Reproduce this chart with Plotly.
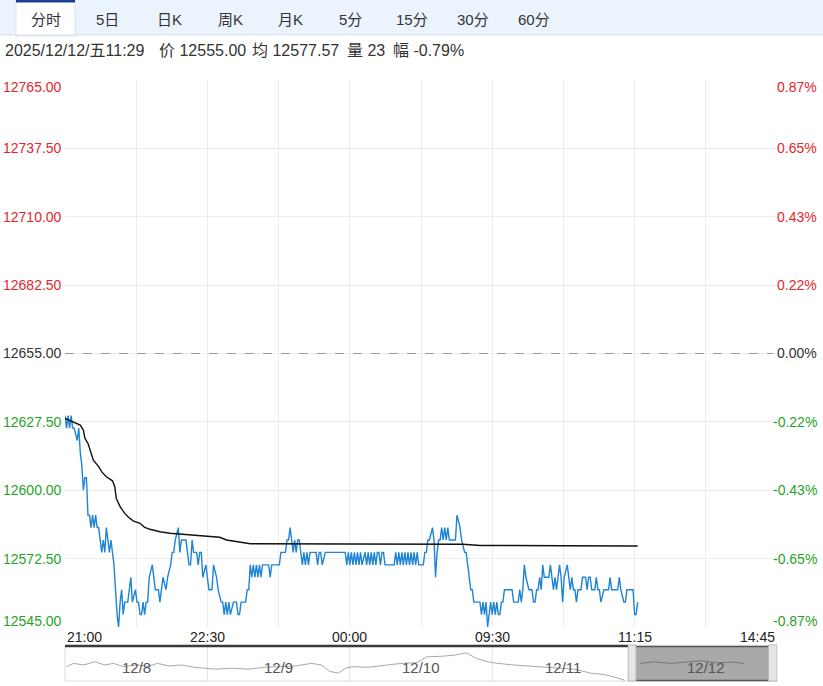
import plotly.graph_objects as go

# ---------------- data ----------------
prev_close = 12655.0
session_minutes = 465          # 21:00-01:00, 09:00-10:15, 10:30-11:30, 13:30-15:00
y_ticks = [12765.0, 12737.5, 12710.0, 12682.5, 12655.0, 12627.5, 12600.0, 12572.5, 12545.0]
time_labels = ["21:00", "22:30", "00:00", "09:30", "11:15", "14:45"]
tabs = ["分时", "5日", "日K", "周K", "月K", "5分", "15分", "30分", "60分"]
header_date = "2025/12/12/五11:29"
volume_last = 23
avg_last = 12577.57

# price line (minute offset from 21:00, price)
price_min = [0, 1, 2, 3, 4, 5, 6, 8, 9, 10, 11, 12, 13, 14, 15, 16, 17, 18, 19, 20,
             21, 22, 23, 24, 25, 26, 27, 29, 30, 31, 32, 33, 34, 35, 36, 37, 38, 39, 41, 43,
             44, 46, 47, 48, 49, 50, 51, 52, 53, 54, 55, 57, 58, 59, 61, 62, 63, 64, 66, 67,
             69, 70, 71, 72, 74, 75, 76, 79, 81, 82, 83, 84, 86, 87, 88, 89, 90, 92, 94, 96,
             97, 99, 100, 102, 103, 104, 105, 106, 107, 108, 110, 111, 112, 113, 114, 115, 118, 119, 120, 121,
             122, 123, 124, 125, 126, 127, 128, 129, 133, 134, 135, 140, 141, 144, 145, 146, 147, 148, 149, 150,
             151, 152, 153, 155, 156, 157, 158, 159, 160, 164, 165, 166, 167, 168, 170, 183, 184, 185, 186, 187,
             188, 189, 190, 191, 192, 193, 194, 196, 197, 198, 199, 200, 201, 202, 203, 204, 205, 206, 207, 208,
             209, 215, 216, 217, 218, 219, 220, 221, 222, 223, 224, 225, 226, 227, 228, 229, 230, 231, 234, 235,
             236, 237, 238, 240, 241, 242, 243, 244, 245, 246, 247, 248, 249, 250, 251, 255, 256, 258, 259, 261,
             262, 263, 265, 266, 267, 270, 271, 272, 273, 274, 275, 276, 278, 279, 280, 281, 282, 283, 284, 285,
             286, 287, 292, 293, 296, 297, 298, 299, 300, 301, 303, 305, 306, 307, 308, 309, 310, 311, 312, 313,
             314, 315, 316, 317, 318, 319, 320, 321, 323, 324, 325, 326, 328, 329, 330, 331, 332, 333, 334, 335,
             337, 338, 340, 341, 342, 343, 344, 346, 347, 348, 349, 350, 352, 355, 356, 357, 361, 362, 363, 365,
             366, 367, 371, 372, 373, 374]
price_val = [12630, 12625, 12630, 12625, 12630, 12625, 12625, 12620, 12625, 12615, 12610, 12600, 12605, 12605, 12590, 12590, 12585, 12590, 12585, 12590,
             12585, 12585, 12580, 12575, 12580, 12575, 12585, 12575, 12580, 12575, 12570, 12560, 12550, 12545, 12555, 12560, 12550, 12555, 12555, 12565,
             12555, 12560, 12555, 12555, 12550, 12550, 12555, 12550, 12555, 12555, 12565, 12570, 12565, 12560, 12560, 12555, 12560, 12565, 12560, 12565,
             12570, 12575, 12575, 12580, 12585, 12575, 12580, 12580, 12570, 12570, 12580, 12575, 12575, 12570, 12575, 12575, 12565, 12570, 12560, 12560,
             12570, 12565, 12560, 12555, 12555, 12550, 12555, 12550, 12555, 12550, 12555, 12555, 12555, 12550, 12550, 12555, 12555, 12560, 12560, 12570,
             12565, 12570, 12565, 12570, 12565, 12570, 12565, 12570, 12570, 12565, 12570, 12570, 12575, 12575, 12580, 12580, 12585, 12580, 12575, 12580,
             12575, 12580, 12580, 12570, 12575, 12570, 12575, 12570, 12575, 12575, 12570, 12575, 12575, 12570, 12575, 12575, 12570, 12575, 12570, 12575,
             12570, 12575, 12570, 12575, 12570, 12575, 12570, 12575, 12570, 12575, 12570, 12575, 12570, 12575, 12570, 12575, 12575, 12570, 12575, 12575,
             12570, 12570, 12575, 12570, 12575, 12570, 12575, 12570, 12575, 12570, 12575, 12570, 12575, 12570, 12575, 12570, 12575, 12570, 12570, 12575,
             12575, 12580, 12580, 12585, 12580, 12565, 12575, 12580, 12580, 12585, 12580, 12585, 12580, 12585, 12580, 12580, 12590, 12585, 12580, 12575,
             12575, 12570, 12560, 12560, 12555, 12555, 12555, 12550, 12555, 12550, 12555, 12545, 12555, 12550, 12555, 12550, 12555, 12550, 12550, 12555,
             12555, 12560, 12560, 12555, 12555, 12560, 12555, 12560, 12570, 12565, 12560, 12560, 12555, 12555, 12560, 12560, 12565, 12560, 12570, 12565,
             12565, 12565, 12565, 12570, 12565, 12560, 12565, 12560, 12570, 12565, 12555, 12565, 12570, 12565, 12560, 12565, 12560, 12560, 12555, 12560,
             12560, 12565, 12565, 12560, 12565, 12565, 12560, 12560, 12565, 12560, 12560, 12555, 12560, 12560, 12565, 12560, 12560, 12565, 12560, 12555,
             12555, 12560, 12560, 12550, 12550, 12555]

# average price line
avg_min = [0, 5, 10, 12, 13, 15, 17, 18.5, 22, 24, 27, 31, 32.5, 33.5, 36, 39, 41.5, 44.5, 49, 52,
           55.5, 62, 68.5, 75, 84, 95, 101, 105.5, 118.5, 121, 186, 234, 260, 269, 271, 325, 374]
avg_val = [12628.9, 12627.6, 12626.2, 12624.2, 12620.9, 12618.9, 12615.5, 12612.1, 12609.5, 12607.4,
           12605.4, 12603.8, 12601.4, 12596.7, 12593.4, 12590.7, 12589.1, 12587.7, 12586.7, 12585.1,
           12584.3, 12583.3, 12582.7, 12582.4, 12582.1, 12581.6, 12581.1, 12580.0, 12578.9, 12578.5,
           12578.4, 12578.4, 12578.3, 12577.9, 12577.8, 12577.7, 12577.57]

# navigator (5 days; position in days, price)
nav_days = ["12/8", "12/9", "12/10", "12/11", "12/12"]
nav_pos = [0.01, 0.06, 0.13, 0.21, 0.28, 0.34, 0.41, 0.51, 0.58, 0.65, 0.73, 0.82, 0.91, 0.99,
           1.06, 1.17, 1.29, 1.40, 1.51, 1.62, 1.73, 1.80, 1.86, 1.92, 1.97,
           2.02, 2.13, 2.25, 2.36, 2.47, 2.54, 2.65, 2.73, 2.82, 2.89, 2.97,
           3.04, 3.15, 3.24, 3.36, 3.47, 3.58, 3.69, 3.79, 3.88, 3.93]
nav_val = [12594, 12621, 12608, 12634, 12608, 12621, 12594, 12608, 12594, 12621, 12600, 12608, 12589, 12581,
           12573, 12581, 12573, 12589, 12594, 12600, 12621, 12608, 12555, 12541, 12581,
           12594, 12589, 12608, 12621, 12626, 12675, 12680, 12688, 12707, 12661, 12634,
           12621, 12608, 12600, 12594, 12581, 12573, 12541, 12528, 12501, 12482]
nav_sel_pos = [4.04, 4.14, 4.25, 4.36, 4.47, 4.58, 4.69, 4.77]
nav_sel_val = [12621, 12634, 12621, 12634, 12642, 12626, 12632, 12621]

# ---------------- layout helpers ----------------
W, H = 823, 686
PX0, PX1 = 65, 777
PY0, PY1 = 80, 627
NY0, NY1 = 646, 681
RED, GREEN, NEUTRAL = "#e4262b", "#1fa51f", "#333333"
FONT = "Liberation Sans, Arial, Noto Sans CJK SC"


def px(x):
    return x / W


def py(y):
    return 1 - y / H


fig = go.Figure()

fig.add_trace(go.Scatter(x=price_min, y=price_val, mode="lines",
                         line=dict(color="#1f84d4", width=1.4), hoverinfo="skip",
                         xaxis="x", yaxis="y"))
fig.add_trace(go.Scatter(x=avg_min, y=avg_val, mode="lines",
                         line=dict(color="#111111", width=1.4), hoverinfo="skip",
                         xaxis="x", yaxis="y"))
fig.add_trace(go.Scatter(x=nav_pos, y=nav_val, mode="lines",
                         line=dict(color="#a8a8a8", width=1), hoverinfo="skip",
                         xaxis="x2", yaxis="y2"))
fig.add_trace(go.Scatter(x=nav_sel_pos, y=nav_sel_val, mode="lines",
                         line=dict(color="#767676", width=1), hoverinfo="skip",
                         xaxis="x2", yaxis="y2"))

shapes = []
annotations = []

# tab bar
shapes.append(dict(type="rect", xref="paper", yref="paper", x0=0, x1=1, y0=py(35), y1=1,
                   fillcolor="#ebf3fd", line=dict(width=0), layer="below"))
shapes.append(dict(type="line", xref="paper", yref="paper", x0=0, x1=1, y0=py(35), y1=py(35),
                   line=dict(color="#d3e1f3", width=1)))
shapes.append(dict(type="rect", xref="paper", yref="paper", x0=px(16), x1=px(75), y0=py(36), y1=1,
                   fillcolor="#ffffff", line=dict(color="#d3e1f3", width=1), layer="below"))
shapes.append(dict(type="rect", xref="paper", yref="paper", x0=px(16), x1=px(75), y0=py(2.5), y1=1,
                   fillcolor="#1c3f94", line=dict(width=0)))
tab_x = [46, 107, 169, 230, 290, 350, 412, 473, 534]
for t, xc in zip(tabs, tab_x):
    annotations.append(dict(xref="paper", yref="paper", x=px(xc), y=py(19), text=t,
                            showarrow=False, xanchor="center", yanchor="middle",
                            font=dict(family=FONT, size=15, color="#333333")))

# header info
last_price = price_val[-1]
chg = (last_price - prev_close) / prev_close * 100
header_parts = [(3, header_date), (157, f"价 {last_price:.2f}"), (250, f"均 {avg_last:.2f}"),
                (345, f"量 {volume_last}"), (391, f"幅 {chg:.2f}%")]
for xl, t in header_parts:
    annotations.append(dict(xref="paper", yref="paper", x=px(xl), y=py(51), text=t,
                            showarrow=False, xanchor="left", yanchor="middle",
                            font=dict(family=FONT, size=16, color="#333333")))

# y tick labels (left price, right percent)
for i, v in enumerate(y_ticks):
    color = RED if v > prev_close else (GREEN if v < prev_close else NEUTRAL)
    if i == 0:
        ya, ys = "top", 3
    elif i == len(y_ticks) - 1:
        ya, ys = "bottom", -4
    else:
        ya, ys = "middle", 0
    pct = (v - prev_close) / prev_close * 100
    pct_txt = "0.00%" if abs(pct) < 0.005 else f"{pct:.2f}%"
    annotations.append(dict(xref="paper", yref="y", x=px(1), y=v, text=f"{v:.2f}",
                            showarrow=False, xanchor="left", yanchor=ya, yshift=ys,
                            font=dict(family=FONT, size=14, color=color)))
    annotations.append(dict(xref="paper", yref="y", x=px(819), y=v, text=pct_txt,
                            showarrow=False, xanchor="right", yanchor=ya, yshift=ys,
                            font=dict(family=FONT, size=14, color=color)))

# prev close dashed line
shapes.append(dict(type="line", xref="paper", yref="y", x0=px(PX0), x1=px(PX1 - 4),
                   y0=prev_close, y1=prev_close, line=dict(color="#9a9a9a", width=1, dash="dash")))

# x time labels
n_lab = len(time_labels)
for i, t in enumerate(time_labels):
    xv = session_minutes * i / (n_lab - 1)
    xa = "left" if i == 0 else ("right" if i == n_lab - 1 else "center")
    annotations.append(dict(xref="x", yref="paper", x=xv, y=py(637), text=t,
                            showarrow=False, xanchor=xa, yanchor="middle",
                            font=dict(family=FONT, size=14, color="#222222")))

# navigator decorations
shapes.append(dict(type="rect", xref="paper", yref="paper", x0=px(PX0), x1=px(PX1), y0=py(NY1), y1=py(NY0),
                   line=dict(color="#dcdcdc", width=1), fillcolor="rgba(0,0,0,0)", layer="below"))
for d in range(1, len(nav_days)):
    shapes.append(dict(type="line", xref="x2", yref="paper", x0=d, x1=d, y0=py(NY1), y1=py(NY0),
                       line=dict(color="#e2e2e2", width=1), layer="below"))
shapes.append(dict(type="rect", xref="x2", yref="paper", x0=4.01, x1=4.94, y0=py(NY1), y1=py(NY0),
                   fillcolor="#a9a9a9", line=dict(width=0), layer="below"))
shapes.append(dict(type="line", xref="paper", yref="paper", x0=px(PX0), x1=px(628), y0=py(NY0), y1=py(NY0),
                   line=dict(color="#3a3a3a", width=2.5)))
shapes.append(dict(type="line", xref="x2", yref="paper", x0=4.01, x1=4.94, y0=py(NY0 + 0.5), y1=py(NY0 + 0.5),
                   line=dict(color="#555555", width=1.5)))
shapes.append(dict(type="line", xref="x2", yref="paper", x0=4.01, x1=4.94, y0=py(NY1 - 0.5), y1=py(NY1 - 0.5),
                   line=dict(color="#555555", width=1.5)))
for a, b in [(3.955, 4.01), (4.94, 5.0)]:
    shapes.append(dict(type="rect", xref="x2", yref="paper", x0=a, x1=b, y0=py(NY1), y1=py(NY0 - 1),
                       fillcolor="#e6e6e6", line=dict(color="#b5b5b5", width=1)))
for d, lab in enumerate(nav_days):
    annotations.append(dict(xref="x2", yref="paper", x=d + 0.5, y=py(667), text=lab,
                            showarrow=False, xanchor="center", yanchor="middle",
                            font=dict(family=FONT, size=15, color="#555555")))

fig.update_layout(
    width=W, height=H, margin=dict(l=0, r=0, t=0, b=0),
    paper_bgcolor="#ffffff", plot_bgcolor="#ffffff", showlegend=False,
    xaxis=dict(domain=[px(PX0), px(PX1)], range=[0, session_minutes],
               tickvals=[session_minutes * k / 10 for k in range(1, 10)],
               showticklabels=False, showgrid=True, gridcolor="#ececec", gridwidth=1,
               zeroline=False, showline=False, ticks="", fixedrange=True),
    yaxis=dict(domain=[py(PY1), py(PY0)], range=[y_ticks[-1], y_ticks[0]],
               tickvals=y_ticks, showticklabels=False, showgrid=True, gridcolor="#ececec",
               gridwidth=1, zeroline=False, showline=False, ticks="", fixedrange=True),
    xaxis2=dict(domain=[px(PX0), px(PX1)], range=[0, len(nav_days)], anchor="y2",
                showticklabels=False, showgrid=False, zeroline=False, showline=False, ticks=""),
    yaxis2=dict(domain=[py(NY1), py(NY0)], range=[12476, 12764], anchor="x2",
                showticklabels=False, showgrid=False, zeroline=False, showline=False, ticks=""),
    shapes=shapes, annotations=annotations,
)

fig.write_html("out.html", config={"displayModeBar": False},
               post_script="document.body.style.margin='0';")
